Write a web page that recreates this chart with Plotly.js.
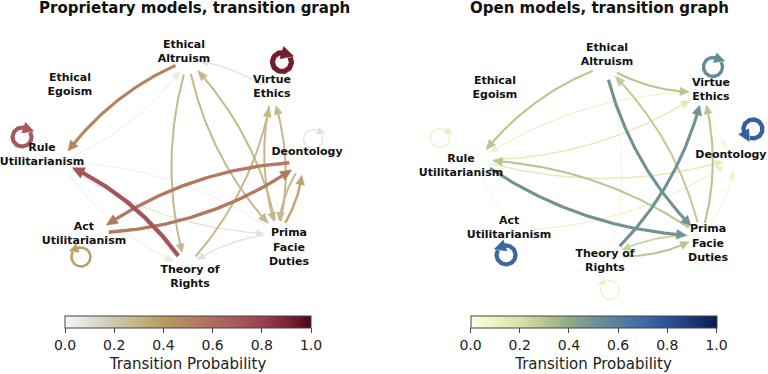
<!DOCTYPE html>
<html><head><meta charset="utf-8">
<script src="https://cdn.plot.ly/plotly-3.0.1.min.js"></script>
<style>html,body{margin:0;padding:0;background:#fff}#chart{width:768px;height:374px}</style>
</head><body><div id="chart"></div>
<script>
// ---------------- DATA ----------------
const nodeKeys = ['EA','VE','DE','PF','TR','AU','RU','EE'];
const nodeLabels = ['Ethical<br>Altruism','Virtue<br>Ethics','Deontology','Prima<br>Facie<br>Duties','Theory of<br>Rights','Act<br>Utilitarianism','Rule<br>Utilitarianism','Ethical<br>Egoism'];

// graph layout coordinates (unit space) for each panel
const leftX  = [0.108, 0.808, 1.067, 0.858, 0.092, -0.667, -0.958, -0.792];
const leftY  = [0.858, 0.583, 0.008, -0.592, -0.867, -0.583, 0.008, 0.592];
const rightX = [0.042, 0.858, 1.133, 0.842, 0.083, -0.683, -1.017, -0.792];
const rightY = [0.783, 0.567, 0.017, -0.633, -0.800, -0.583, 0.000, 0.542];

// proprietary models: transitions
const leftFrom = ['EA','RU','VE','EA','EA','PF','TR','PF','VE','DE','AU','TR','PF','DE','RU','PF','RU','PF'];
const leftTo   = ['RU','EA','EA','TR','PF','EA','VE','VE','PF','AU','DE','RU','DE','PF','PF','TR','TR','RU'];
const leftProb = [0.50,0.06,0.10,0.28,0.28,0.28,0.28,0.28,0.28,0.55,0.55,0.72,0.36,0.28,0.10,0.10,0.06,0.05];
const leftLoopNode = ['VE','RU','DE','AU'];
const leftLoopProb = [0.92,0.70,0.10,0.38];

// open models: transitions
const rightFrom = ['EA','EA','EA','PF','TR','PF','RU','PF','TR','PF','RU','VE','RU','AU','TR','VE','RU','PF'];
const rightTo   = ['RU','VE','PF','EA','VE','VE','PF','RU','PF','TR','VE','RU','DE','DE','EA','DE','AU','DE'];
const rightProb = [0.30,0.30,0.50,0.28,0.50,0.30,0.50,0.30,0.30,0.25,0.15,0.10,0.15,0.10,0.06,0.05,0.06,0.08];
const rightLoopNode = ['VE','DE','AU','RU','TR'];
const rightLoopProb = [0.55,0.75,0.72,0.12,0.10];

const tickVals = [0, 0.2, 0.4, 0.6, 0.8, 1.0];
const tickText = ['0.0','0.2','0.4','0.6','0.8','1.0'];
const leftTitle = 'Proprietary models, transition graph';
const rightTitle = 'Open models, transition graph';
const cbTitle = 'Transition Probability';

// ---------------- STYLE ----------------
const leftScale = [[0,'#f7f7f7'],[0.1,'#e0dfd8'],[0.2,'#cdc8ab'],[0.3,'#c3b583'],[0.4,'#b99a5e'],[0.5,'#b5835f'],[0.6,'#af6d60'],[0.7,'#a7585d'],[0.8,'#9a4250'],[0.9,'#7b2434'],[1,'#4d0812']];
const rightScale = [[0,'#fdfde4'],[0.1,'#eef1c3'],[0.2,'#dbe2a4'],[0.3,'#b8c68f'],[0.4,'#90aa88'],[0.5,'#6f9391'],[0.6,'#55809f'],[0.7,'#3e6ba4'],[0.8,'#2b5396'],[0.9,'#1b3677'],[1,'#0a1a4f']];
const PX = 120;            // pixels per layout unit
const RAD = 0.15;          // arc curvature
const SHRINK = 13 / PX;    // distance from node centre to arrow ends
const FONT = 'DejaVu Sans, sans-serif';
const labelOffLeft  = {EA:[-4,-8], VE:[0,-6], DE:[4,-10], PF:[11,14], TR:[4,10], AU:[-11,1], RU:[-18,-7], EE:[-10,-7]};
const labelOffRight = {EA:[2,-11], VE:[8,-2], DE:[-5,-3], PF:[7,8], TR:[-5,5], AU:[-9,-2], RU:[-17,6], EE:[-10,-7]};
// self-loop styling: [centre dx px, centre dy px, end angle (screen deg), direction (1 = clockwise)]
const loopStyleLeft  = {VE:[10,-31,-70,1], RU:[-38,-25,-70,1], DE:[10,-23,-70,1], AU:[-14,24,-110,-1]};
const loopStyleRight = {VE:[10,-25,-70,1], DE:[17,-29,150,-1], AU:[-12,25,-110,-1], RU:[-38,-22,-60,1], TR:[0,34,-110,-1]};

function hex2rgb(h){return [parseInt(h.substr(1,2),16),parseInt(h.substr(3,2),16),parseInt(h.substr(5,2),16)];}
function colorAt(scale, v){
  v = Math.max(0, Math.min(1, v));
  for (let i = 1; i < scale.length; i++) {
    if (v <= scale[i][0]) {
      const a = scale[i-1], b = scale[i];
      const f = (v - a[0]) / (b[0] - a[0]);
      const ca = hex2rgb(a[1]), cb = hex2rgb(b[1]);
      const c = ca.map((x,k)=>Math.round(x + (cb[k]-x)*f));
      return 'rgb(' + c.join(',') + ')';
    }
  }
  return scale[scale.length-1][1];
}

function edgePath(x0,y0,x1,y1){
  const mx=(x0+x1)/2, my=(y0+y1)/2, dx=x1-x0, dy=y1-y0;
  const cx = mx + RAD*dy, cy = my - RAD*dx;
  const xs=[], ys=[];
  const N=100;
  for(let i=0;i<=N;i++){
    const t=i/N;
    const x=(1-t)*(1-t)*x0+2*(1-t)*t*cx+t*t*x1;
    const y=(1-t)*(1-t)*y0+2*(1-t)*t*cy+t*t*y1;
    if (Math.hypot(x-x0,y-y0) >= SHRINK && Math.hypot(x-x1,y-y1) >= SHRINK) { xs.push(x); ys.push(y); }
  }
  return [xs,ys];
}

function loopPath(nx,ny,st){
  const r = 9.5 / PX;
  const cx = nx + st[0]/PX, cy = ny - st[1]/PX;
  const aEnd = -st[2]*Math.PI/180;                // y-up angle
  const span = 320*Math.PI/180;
  const aStart = st[3] === 1 ? aEnd + span : aEnd - span;
  const xs=[], ys=[];
  const N=90;
  for(let i=0;i<=N;i++){
    const a = aStart + (aEnd-aStart)*i/N;
    xs.push(cx + r*Math.cos(a)); ys.push(cy + r*Math.sin(a));
  }
  // short tangent run-out so the head sticks out of the ring
  const tx = st[3] === 1 ? Math.sin(aEnd) : -Math.sin(aEnd);
  const ty = st[3] === 1 ? -Math.cos(aEnd) : Math.cos(aEnd);
  const ex = xs[N], ey = ys[N];
  for (let j=1;j<=6;j++){ xs.push(ex + tx*j*1.5/PX); ys.push(ey + ty*j*1.5/PX); }
  return [xs,ys];
}

// line + filled arrow head
function arrowTraces(xs,ys,p,scale,xa,ya){
  const col = colorAt(scale,p);
  const lw = 0.6 + 5*p;
  const L = (6.5 + 6*p) / PX;
  const hw = 0.45 * (6.5 + 6*p) / PX + 0.2*lw/PX;
  const n = xs.length - 1;
  const tx = xs[n], ty = ys[n];
  let k = n;
  while (k > 0 && Math.hypot(xs[k]-tx, ys[k]-ty) < L) k--;
  const bx = xs[k], by = ys[k];
  const d = Math.hypot(tx-bx, ty-by) || 1;
  const ux = (tx-bx)/d, uy = (ty-by)/d;
  const lx = xs.slice(0, k+1), ly = ys.slice(0, k+1);
  lx.push(bx + ux*1/PX); ly.push(by + uy*1/PX);
  const line = {type:'scatter', mode:'lines', x:lx, y:ly, xaxis:xa, yaxis:ya,
    line:{color:col, width:lw}, hoverinfo:'skip', showlegend:false};
  const head = {type:'scatter', mode:'lines', fill:'toself', fillcolor:col,
    x:[tx, bx - uy*hw, bx + uy*hw, tx], y:[ty, by + ux*hw, by - ux*hw, ty], xaxis:xa, yaxis:ya,
    line:{color:col, width:0.5}, hoverinfo:'skip', showlegend:false};
  return [line, head];
}

function buildPanel(X,Y,from,to,prob,loopNode,loopProb,loopStyle,labelOff,scale,xa,ya){
  const traces=[];
  const items=[];
  from.forEach((f,i)=>items.push({type:'e', i, p:prob[i]}));
  loopNode.forEach((n,i)=>items.push({type:'l', i, p:loopProb[i]}));
  items.sort((a,b)=>a.p-b.p);
  items.forEach(it=>{
    let pth;
    if(it.type==='e'){
      const a=nodeKeys.indexOf(from[it.i]), b=nodeKeys.indexOf(to[it.i]);
      pth = edgePath(X[a],Y[a],X[b],Y[b]);
    } else {
      const k=nodeKeys.indexOf(loopNode[it.i]);
      pth = loopPath(X[k],Y[k],loopStyle[loopNode[it.i]]);
    }
    traces.push(...arrowTraces(pth[0],pth[1],it.p,scale,xa,ya));
  });
  const lx = X.map((v,i)=> v + labelOff[nodeKeys[i]][0]/PX);
  const ly = Y.map((v,i)=> v - labelOff[nodeKeys[i]][1]/PX);
  traces.push({type:'scatter', mode:'text', x:lx, y:ly, text:nodeLabels, xaxis:xa, yaxis:ya,
    textfont:{family:FONT, size:11, color:'#111', weight:'bold'}, textposition:'middle center',
    hoverinfo:'skip', showlegend:false});
  return traces;
}

const data = [
  ...buildPanel(leftX,leftY,leftFrom,leftTo,leftProb,leftLoopNode,leftLoopProb,loopStyleLeft,labelOffLeft,leftScale,'x','y'),
  ...buildPanel(rightX,rightY,rightFrom,rightTo,rightProb,rightLoopNode,rightLoopProb,loopStyleRight,labelOffRight,rightScale,'x2','y2'),
  {type:'scatter', mode:'markers', x:[0,0], y:[0,0], xaxis:'x', yaxis:'y', marker:{color:[0,1], coloraxis:'coloraxis', opacity:0}, hoverinfo:'skip', showlegend:false},
  {type:'scatter', mode:'markers', x:[0,0], y:[0,0], xaxis:'x2', yaxis:'y2', marker:{color:[0,1], coloraxis:'coloraxis2', opacity:0}, hoverinfo:'skip', showlegend:false}
];

const W=768, H=374;
function axisRange(pxLo, pxHi, centre){ return [(pxLo-centre)/PX, (pxHi-centre)/PX]; }
const hidden = {visible:false, fixedrange:true, showgrid:false, zeroline:false};

function cb(xc){
  return {orientation:'h', x:xc/W, xanchor:'center', y:1-316/H, yanchor:'top',
    len:246, lenmode:'pixels', thickness:12, thicknessmode:'pixels',
    outlinewidth:1, outlinecolor:'#444', xpad:0, ypad:0,
    tickmode:'array', tickvals:tickVals, ticktext:tickText, ticks:'outside', ticklen:5, tickcolor:'#444', tickwidth:1,
    tickfont:{family:FONT, size:14, color:'#222'},
    title:{text:cbTitle, side:'bottom', font:{family:FONT, size:15, color:'#222'}}};
}

const layout = {
  width:W, height:H, margin:{l:0,r:0,t:0,b:0}, paper_bgcolor:'#fff', plot_bgcolor:'#fff',
  showlegend:false,
  xaxis: Object.assign({domain:[0,0.5], range:axisRange(0,384,175)}, hidden),
  yaxis: Object.assign({domain:[0,1], range:axisRange(-374,0,-163)}, hidden),
  xaxis2: Object.assign({domain:[0.5,1], range:axisRange(384,768,600)}, hidden),
  yaxis2: Object.assign({domain:[0,1], range:axisRange(-374,0,-160)}, hidden),
  coloraxis:{cmin:0, cmax:1, colorscale:leftScale, colorbar:cb(188)},
  coloraxis2:{cmin:0, cmax:1, colorscale:rightScale, colorbar:cb(593.5)},
  annotations:[
    {text:'<b>'+leftTitle+'</b>', xref:'paper', yref:'paper', x:194/W, y:1-8/H, xanchor:'center', yanchor:'middle', showarrow:false, font:{family:FONT, size:15, color:'#111'}},
    {text:'<b>'+rightTitle+'</b>', xref:'paper', yref:'paper', x:599/W, y:1-8/H, xanchor:'center', yanchor:'middle', showarrow:false, font:{family:FONT, size:15, color:'#111'}}
  ]
};

Plotly.newPlot('chart', data, layout, {staticPlot:true, displayModeBar:false});
</script>
</body></html>
